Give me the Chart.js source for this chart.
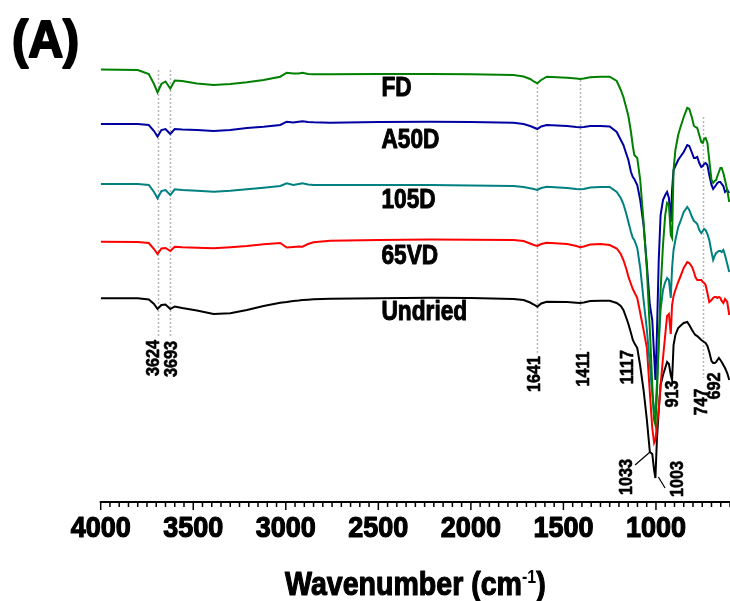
<!DOCTYPE html>
<html>
<head>
<meta charset="utf-8">
<script src="https://cdn.jsdelivr.net/npm/chart.js@4.4.0/dist/chart.umd.min.js"></script>
<style>
  html, body { margin: 0; padding: 0; background: #fff; }
  #wrap { width: 730px; height: 601px; position: relative; }
</style>
</head>
<body>
<div id="wrap"><canvas id="ftirChart"></canvas></div>
<script>
// FTIR spectra, stacked (transmittance, arbitrary offset units)
const wavenumbers = [
  4000, 3800, 3740, 3712, 3693, 3672, 3650, 3624, 3600, 3560,
  3480, 3390, 3300, 3210, 3120, 3030, 2995, 2960, 2930, 2910,
  2880, 2850, 2760, 2500, 2220, 2000, 1770, 1715, 1680, 1660,
  1641, 1620, 1590, 1480, 1430, 1411, 1390, 1355, 1300, 1250,
  1212, 1190, 1176, 1160, 1149, 1135, 1125, 1117, 1101, 1085,
  1067, 1049, 1033, 1020, 1010, 1003, 995, 985, 975, 962,
  950, 940, 930, 920, 913, 905, 895, 880, 869, 850,
  831, 820, 805, 795, 787, 777, 766, 755, 747, 740,
  732, 722, 712, 700, 691, 683, 675, 668, 660, 652,
  645, 636, 627, 615, 604
];

const fdValues = [
  432.5, 432, 428, 418, 409.5, 418, 420.5, 413.5, 421.5, 421,
  418.5, 417, 418, 419.7, 422, 425.3, 429.3, 428.5, 428.5, 429.3,
  428, 427.7, 427.7, 428, 428, 427.7, 427, 425.5, 423, 420.5,
  418.7, 422, 425.3, 424.3, 423.5, 423, 423.5, 424.7, 425.2, 425.3,
  421, 412, 405, 394, 386, 370, 356, 347, 344, 322,
  280, 232, 172, 117, 82, 77, 107, 162, 212, 257,
  287, 299, 297, 267, 264, 332, 352, 367, 374, 385,
  394, 393, 384, 376, 375, 374, 367, 360, 359, 363,
  364, 359, 342, 322, 319, 321, 322, 326, 330, 334,
  334, 329, 322, 312, 300
];

const a50dValues = [
  378, 378, 377, 371, 365.5, 372, 373, 368, 373, 372.5,
  372, 371, 372, 374, 375.3, 377, 380.3, 379.5, 380.3, 380.7,
  380, 379.7, 379.3, 380, 380.3, 380, 379.3, 378, 376, 374.5,
  373, 375.5, 377, 376, 375, 374.7, 375, 376, 376, 375.5,
  370, 362, 357, 348, 342, 330, 325, 323, 317, 302,
  277, 237, 197, 182, 147, 122, 167, 242, 287, 302,
  307, 310, 304, 280, 312, 332, 336, 342, 345, 350,
  357, 356, 349, 344, 344, 345, 339, 335, 336, 338,
  339, 337, 327, 317, 313, 315, 317, 319, 320, 320,
  318, 316, 310, 312, 309
];

const d105Values = [
  318, 318, 317, 310, 303.7, 311, 312, 307, 312.7, 312,
  311.3, 310.3, 311.3, 312.7, 314.3, 316, 318.7, 317, 318, 318.7,
  317.5, 317, 317, 317, 317, 316.5, 316, 315, 313.7, 313,
  312, 314, 315.3, 314, 313, 312.7, 313, 314.5, 315, 315,
  310, 304, 298, 288, 280, 270, 264, 262, 254, 234,
  202, 172, 137, 107, 90, 92, 117, 157, 192, 212,
  220, 224, 222, 204, 234, 252, 262, 275, 280, 290,
  295, 292, 285, 281, 280, 278, 272, 269, 271, 273,
  272, 268, 262, 250, 242, 246, 249, 250, 251, 251,
  250, 252, 247, 238, 230
];

const vd65Values = [
  260.3, 260, 259, 253, 248, 253.5, 254, 251, 255.3, 254.7,
  254.3, 253.7, 254.7, 256, 257.7, 259, 254.5, 255, 255.5, 255.3,
  258, 259.7, 261.3, 262, 262.5, 262.3, 262, 261, 258.5, 257,
  256, 258, 259.3, 258, 256, 254.7, 255.5, 257.5, 258, 257,
  253.5, 248, 242, 233, 225.3, 218, 213, 210, 204, 189,
  172, 154, 109, 74, 59, 62, 77, 92, 117, 144,
  167, 186, 188, 168, 197, 206, 212, 220, 225, 234,
  240, 239, 235, 230, 225, 222, 222, 222, 220, 219,
  217, 209, 200, 202, 204, 205, 205, 204, 205, 204,
  201, 199, 203, 200, 187
];

const undriedValues = [
  203.7, 203.7, 202.5, 198, 193, 197, 197.5, 193, 195.5, 194,
  191.5, 188, 188.7, 192, 196, 199.3, 200, 201, 201.5, 202,
  202.3, 202.7, 203.3, 203.7, 204.3, 204, 203, 202, 199.5, 197.5,
  195.3, 198.5, 200.3, 200, 199.3, 199, 199.5, 201, 201.3, 201.3,
  199, 196, 192, 184, 178, 169, 162, 159, 154, 136,
  112, 82, 50, 48, 32, 24, 62, 92, 117, 127,
  134, 140, 138, 127, 122, 157, 167, 174, 176, 179,
  180, 177, 172, 169, 167, 166, 164, 162, 161, 160,
  159, 156, 150, 141, 139, 139, 140, 142, 144, 142,
  140, 137, 134, 129, 122
];

const seriesNames = ['FD', 'A50D', '105D', '65VD', 'Undried'];
const seriesData = [fdValues, a50dValues, d105Values, vd65Values, undriedValues];
const seriesColors = ['#008000', '#0000a0', '#008080', '#ff0000', '#000000'];

const xTickLabels = [4000, 3500, 3000, 2500, 2000, 1500, 1000];
const peakLines = [3693, 3624, 1641, 1411, 747];
const peakLabels = ['3624', '3693', '1641', '1411', '1117', '913', '747', '692', '1033', '1003'];

const FONT = '"Liberation Sans", Arial, Helvetica, sans-serif';

// bold text, squeezed horizontally, with a thin outline to get the heavy look
function drawText(ctx, text, x, y, size, sx, angle, align, baseline, weight) {
  ctx.save();
  ctx.translate(x, y);
  if (angle) ctx.rotate(angle);
  ctx.scale(sx, 1);
  ctx.font = 'bold ' + size + 'px ' + FONT;
  ctx.textAlign = align;
  ctx.textBaseline = baseline;
  ctx.fillStyle = '#000';
  ctx.fillText(text, 0, 0);
  if (weight) {
    ctx.strokeStyle = '#000';
    ctx.lineWidth = weight;
    ctx.lineJoin = 'round';
    ctx.strokeText(text, 0, 0);
  }
  ctx.restore();
}

// annotation layout (wavenumber anchor, value anchor)
const peakLineSpan = [[432, 165], [432, 165], [419, 148], [422, 152], [385, 124]];
const peakLabelPos = [[3712, 144], [3616, 143], [1654, 128], [1389, 133], [1151, 135],
                      [906, 108], [753, 100], [681, 116], [1156, 25], [881, 23]];
const leaders = [[[1113, 37], [1032, 50]], [[987, 25], [951, 14]]];
const nameAnchor = [[2483, 406], [2483, 354], [2483, 294], [2483, 238], [2483, 182]];

const ftirPlugin = {
  id: 'ftirDecor',
  beforeDatasetsDraw(chart) {
    const { ctx, scales: { x, y } } = chart;
    ctx.save();
    ctx.strokeStyle = '#b8b8b8';
    ctx.lineWidth = 1.5;
    ctx.setLineDash([2, 2]);
    peakLines.forEach((wn, i) => {
      const px = Math.round(x.getPixelForValue(wn)) + 0.5;
      ctx.beginPath();
      ctx.moveTo(px, y.getPixelForValue(peakLineSpan[i][0]));
      ctx.lineTo(px, y.getPixelForValue(peakLineSpan[i][1]));
      ctx.stroke();
    });
    ctx.restore();
  },
  afterDatasetsDraw(chart) {
    const { ctx, chartArea, scales: { x, y } } = chart;
    const base = chartArea.bottom;

    // axis line and ticks
    ctx.save();
    ctx.strokeStyle = '#000';
    ctx.lineWidth = 2;
    ctx.beginPath();
    ctx.moveTo(chartArea.left - 1, base);
    ctx.lineTo(chartArea.right, base);
    ctx.stroke();
    ctx.lineWidth = 1.5;
    for (let wn = 4000; wn >= 600; wn -= 50) {
      const px = x.getPixelForValue(wn);
      const len = wn % 500 === 0 ? 8 : 5;
      ctx.beginPath();
      ctx.moveTo(px, base);
      ctx.lineTo(px, base + len);
      ctx.stroke();
    }
    ctx.restore();

    xTickLabels.forEach(v => {
      drawText(ctx, String(v), x.getPixelForValue(v), 537, 30, 0.9, 0, 'center', 'alphabetic', 1.2);
    });

    // axis title with superscript
    ctx.save();
    const cx = (chartArea.left + chartArea.right) / 2;
    ctx.translate(cx, 595);
    ctx.scale(0.84, 1);
    ctx.fillStyle = '#000';
    ctx.strokeStyle = '#000';
    ctx.lineWidth = 1.2;
    ctx.lineJoin = 'round';
    ctx.textBaseline = 'alphabetic';
    ctx.textAlign = 'left';
    ctx.font = 'bold 34px ' + FONT;
    const p1 = 'Wavenumber (cm', p3 = ')';
    const w1 = ctx.measureText(p1).width, w3 = ctx.measureText(p3).width;
    ctx.font = 'bold 19px ' + FONT;
    const w2 = ctx.measureText('-1').width;
    const x0 = -(w1 + w2 + w3) / 2;
    ctx.font = 'bold 34px ' + FONT;
    ctx.fillText(p1, x0, 0);
    ctx.strokeText(p1, x0, 0);
    ctx.fillText(p3, x0 + w1 + w2, 0);
    ctx.strokeText(p3, x0 + w1 + w2, 0);
    ctx.font = 'bold 19px ' + FONT;
    ctx.fillText('-1', x0 + w1, -12);
    ctx.restore();

    // spectrum names
    seriesNames.forEach((name, i) => {
      drawText(ctx, name, x.getPixelForValue(nameAnchor[i][0]), y.getPixelForValue(nameAnchor[i][1]),
        27, 0.84, 0, 'left', 'alphabetic', 1);
    });

    // peak labels (rotated)
    peakLabels.forEach((t, i) => {
      drawText(ctx, t, x.getPixelForValue(peakLabelPos[i][0]), y.getPixelForValue(peakLabelPos[i][1]),
        18, 0.9, -Math.PI / 2, 'center', 'middle', 0.6);
    });

    ctx.save();
    ctx.strokeStyle = '#000';
    ctx.lineWidth = 1.2;
    leaders.forEach(([a, b]) => {
      ctx.beginPath();
      ctx.moveTo(x.getPixelForValue(a[0]), y.getPixelForValue(a[1]));
      ctx.lineTo(x.getPixelForValue(b[0]), y.getPixelForValue(b[1]));
      ctx.stroke();
    });
    ctx.restore();

    // panel letter
    drawText(ctx, '(A)', 12, 57, 51, 0.95, 0, 'left', 'alphabetic', 2);
  }
};

const ctx = document.getElementById('ftirChart');
new Chart(ctx, {
  type: 'line',
  data: {
    datasets: seriesNames.map((name, i) => ({
      label: name,
      data: wavenumbers.map((wn, j) => ({ x: wn, y: seriesData[i][j] })),
      borderColor: seriesColors[i],
      borderWidth: 2,
      pointRadius: 0,
      fill: false,
      tension: 0
    }))
  },
  options: {
    responsive: true,
    maintainAspectRatio: false,
    animation: false,
    layout: { padding: { left: 100.7, right: 0, top: 42, bottom: 99 } },
    scales: {
      x: { type: 'linear', reverse: true, min: 600, max: 4000, display: false },
      y: { min: 0, max: 460, display: false }
    },
    plugins: { legend: { display: false }, tooltip: { enabled: false } }
  },
  plugins: [ftirPlugin]
});
</script>
</body>
</html>
